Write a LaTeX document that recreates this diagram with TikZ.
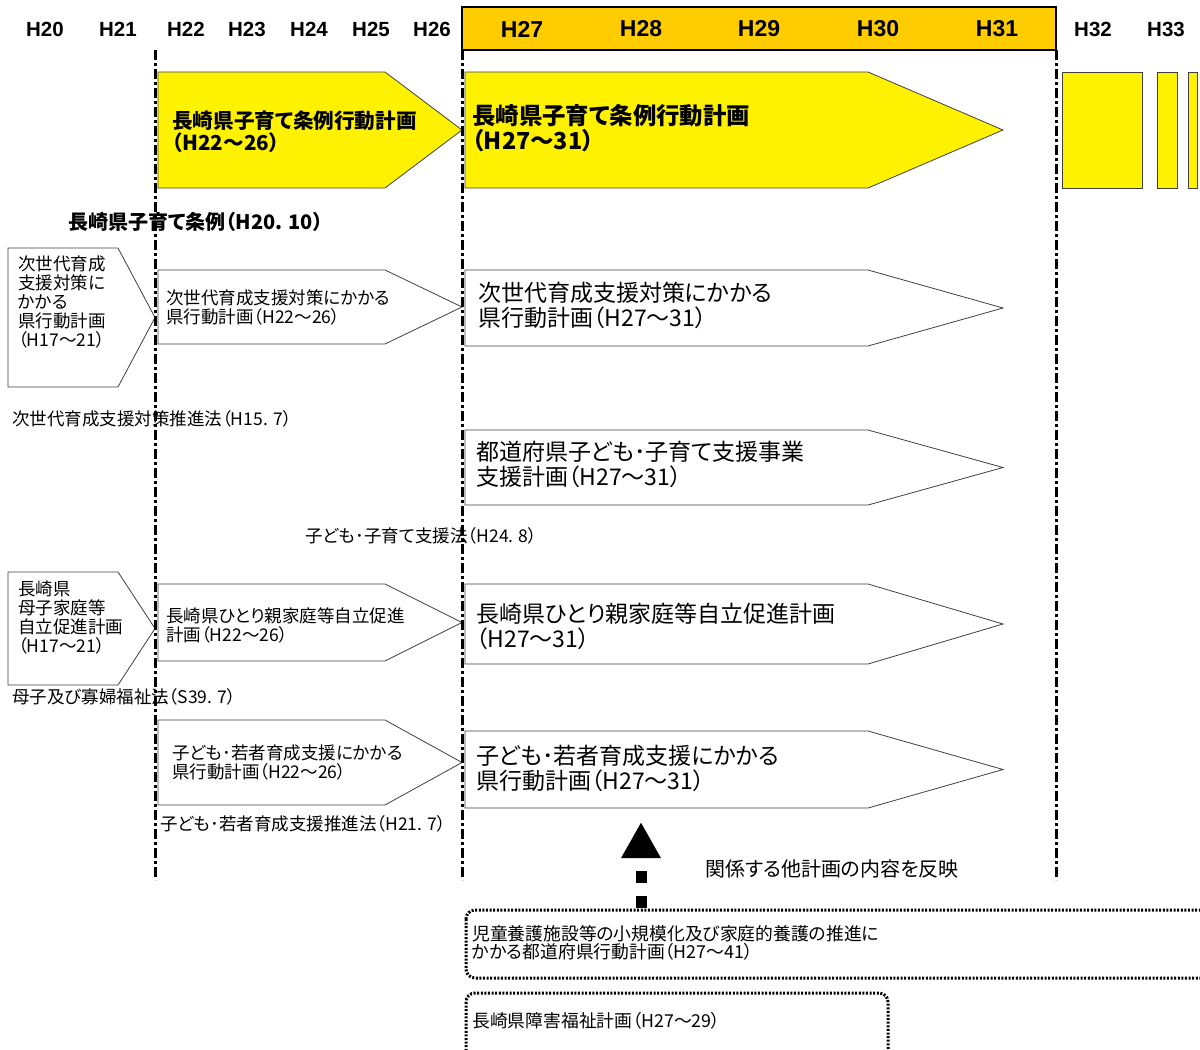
\documentclass[tikz,border=0pt]{standalone}
\usepackage{fontspec}
\setmainfont{Liberation Sans}
\newfontfamily\jp{Noto Sans CJK JP}[RawFeature=+palt]
\newfontfamily\lat{Liberation Sans}
\usetikzlibrary{arrows.meta}
\newcommand\pshape[6]{\draw[#6] (#1,#4) -- (#3,#4) -- (#2,{(#4+#5)/2}) -- (#3,#5) -- (#1,#5) -- cycle;}
\tikzset{
 yr/.style={font=\lat\bfseries\fontsize{20.5}{20.5}\selectfont, inner sep=0},
 yrb/.style={font=\lat\bfseries\fontsize{23}{23}\selectfont, inner sep=0},
 period/.style={line width=3pt, dash pattern=on 10pt off 3pt on 3pt off 3pt},
 ylw/.style={fill=yellow, draw=black!75, line width=0.8pt},
 wht/.style={fill=white, draw=black!75, line width=0.8pt},
 txs/.style={font=\jp\fontsize{17.5}{19}\selectfont, align=left, anchor=west, inner sep=0},
 txl/.style={font=\jp\fontsize{23}{25}\selectfont, align=left, anchor=west, inner sep=0},
 txb/.style={font=\jp\bfseries\fontsize{20.6}{22}\selectfont, align=left, anchor=west, inner sep=0},
 txbl/.style={font=\jp\bfseries\fontsize{23.4}{25}\selectfont, align=left, anchor=west, inner sep=0},
 dotbox/.style={draw, line width=3pt, dash pattern=on 2pt off 1.6pt, rounded corners=9pt},
}
\definecolor{band}{RGB}{255,204,0}
\begin{document}
\begin{tikzpicture}[x=1pt,y=-1pt]
\useasboundingbox (0,0) rectangle (1200,1050);
% header band
\draw[fill=band, line width=2pt] (462,7) rectangle (1056,50);
\node[yr] (h20) at (45,29) {H20};
\node[yr] (h21) at (118,29) {H21};
\node[yr] (h22) at (186,29) {H22};
\node[yr] (h23) at (247,29) {H23};
\node[yr] (h24) at (309,29) {H24};
\node[yr] (h25) at (371,29) {H25};
\node[yr] (h26) at (432,29) {H26};
\node[yrb] (h27) at (522,29) {H27};
\node[yrb] (h28) at (641,29) {H28};
\node[yrb] (h29) at (759,29) {H29};
\node[yrb] (h30) at (878,29) {H30};
\node[yrb] (h31) at (997,29) {H31};
\node[yr] (h32) at (1093,29) {H32};
\node[yr] (h33) at (1166,29) {H33};
% yellow arrows
\pshape{158}{462}{385}{72}{188}{ylw}
\pshape{465}{1003}{868}{72}{188}{ylw}
\draw[ylw] (1062,72) rectangle (1142,188);
\draw[ylw] (1157,72) rectangle (1177,188);
\draw[ylw] (1188,72) rectangle (1197,188);
% left pentagons
\pshape{8}{155}{118}{248}{387}{wht}
\pshape{8}{155}{118}{572}{685}{wht}
% white arrows
\pshape{158}{462}{385}{270}{344}{wht}
\pshape{465}{1003}{868}{270}{346}{wht}
\pshape{465}{1003}{868}{430}{505}{wht}
\pshape{158}{462}{385}{584}{661}{wht}
\pshape{465}{1003}{868}{584}{664}{wht}
\pshape{158}{462}{385}{720}{805}{wht}
\pshape{465}{1003}{868}{731}{808}{wht}
% period lines
\draw[period] (155,50) -- (155,880);
\draw[period] (462,50) -- (462,880);
\draw[period] (1056,50) -- (1056,880);
% texts
\node[txb] (a1) at (172,132) {長崎県子育て条例行動計画\\（H22～26）};
\node[txbl] (a2) at (472,128.5) {長崎県子育て条例行動計画\\（H27～31）};
\node[txb, font=\jp\bfseries\fontsize{20}{20}\selectfont] (law0) at (68,222) {長崎県子育て条例（H20. 10）};
\node[txs] (l1) at (18,301.5) {次世代育成\\支援対策に\\かかる\\県行動計画\\（H17～21）};
\node[txs] (l2) at (18,617.5) {長崎県\\母子家庭等\\自立促進計画\\（H17～21）};
\node[txs] (b1) at (166,307.5) {次世代育成支援対策にかかる\\県行動計画（H22～26）};
\node[txl] (c1) at (478,305.5) {次世代育成支援対策にかかる\\県行動計画（H27～31）};
\node[txl] (c2) at (476,464.5) {都道府県子ども･子育て支援事業\\支援計画（H27～31）};
\node[txs] (b2) at (166,625.5) {長崎県ひとり親家庭等自立促進\\計画（H22～26）};
\node[txl] (c3) at (476,626.5) {長崎県ひとり親家庭等自立促進計画\\（H27～31）};
\node[txs] (b3) at (172,762.5) {子ども･若者育成支援にかかる\\県行動計画（H22～26）};
\node[txl] (c4) at (476,768.5) {子ども･若者育成支援にかかる\\県行動計画（H27～31）};
\node[txs] (law1) at (12,419) {次世代育成支援対策推進法（H15. 7）};
\node[txs] (law2) at (305,536) {子ども･子育て支援法（H24. 8）};
\node[txs] (law3) at (12,697) {母子及び寡婦福祉法（S39. 7）};
\node[txs] (law4) at (160,824) {子ども･若者育成支援推進法（H21. 7）};
\node[txs, font=\jp\fontsize{20}{20}\selectfont] (refl) at (705,869) {関係する他計画の内容を反映};
% dotted boxes
\draw[dotbox] (466,910) rectangle (1215,978);
\draw[dotbox] (466,993) rectangle (888,1065);
\node[txs, font=\jp\fontsize{17.8}{18}\selectfont] (d1) at (472,943) {児童養護施設等の小規模化及び家庭的養護の推進に\\かかる都道府県行動計画（H27～41）};
\node[txs, font=\jp\fontsize{17.8}{18}\selectfont] (d2) at (472,1021) {長崎県障害福祉計画（H27～29）};
% big arrow
\coordinate (src) at (641,908);
\coordinate (dst) at (641,822);
\draw[line width=11pt, dash pattern=on 12pt off 13pt, -{Triangle[width=37pt,length=36pt]}] (src) -- (dst);
\end{tikzpicture}
\end{document}
